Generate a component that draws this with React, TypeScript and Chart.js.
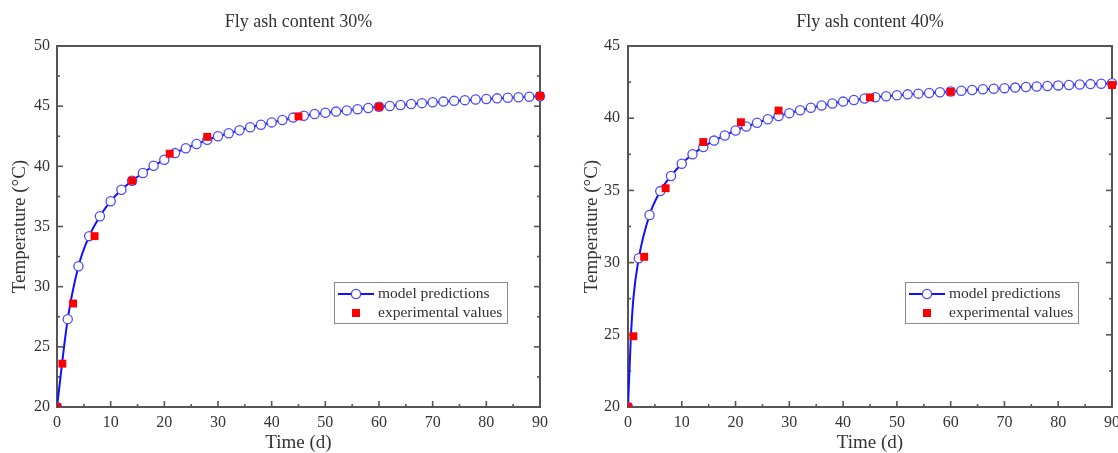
import React, { useEffect, useRef } from "react";
import { Chart, registerables } from "chart.js";

Chart.register(...registerables);

const FONT = "'Liberation Serif', 'Times New Roman', serif";
const TEXT = "#333333";
const AXIS = "#555555";
const LINE_BLUE = "#1010ff";
const MARK_BLUE = "#4a4aff";
const EXP_RED = "#ff0000";

const chartTitles = ["Fly ash content 30%", "Fly ash content 40%"];
const xAxisTitle = "Time (d)";
const yAxisTitle = "Temperature (°C)";
const legendLabels = ["model predictions", "experimental values"];

const xTickValues = [0, 10, 20, 30, 40, 50, 60, 70, 80, 90];
const yTickValues30 = [20, 25, 30, 35, 40, 45, 50];
const yTickValues40 = [20, 25, 30, 35, 40, 45];

const expDays = [0, 1, 3, 7, 14, 21, 28, 45, 60, 90];
const expTemp30 = [20, 23.6, 28.6, 34.2, 38.8, 41.05, 42.45, 44.15, 44.95, 45.85];
const expTemp40 = [20, 24.9, 30.4, 35.15, 38.35, 39.72, 40.53, 41.44, 41.83, 42.3];

const modelDays30 = [
  0, 2, 4, 6, 8, 10, 12, 14, 16, 18, 20, 22, 24, 26, 28, 30, 32, 34, 36, 38, 40, 42, 44,
  46, 48, 50, 52, 54, 56, 58, 60, 62, 64, 66, 68, 70, 72, 74, 76, 78, 80, 82, 84, 86, 88, 90,
];
const modelTemp30 = [
  20, 27.3, 31.7, 34.2, 35.85, 37.1, 38.05, 38.8, 39.45, 40.05, 40.55, 41.1, 41.5, 41.85,
  42.2, 42.5, 42.75, 43.0, 43.25, 43.45, 43.65, 43.85, 44.05, 44.2, 44.35, 44.45, 44.55,
  44.65, 44.75, 44.85, 44.95, 45.02, 45.1, 45.18, 45.25, 45.32, 45.38, 45.44, 45.5, 45.55,
  45.6, 45.65, 45.7, 45.74, 45.78, 45.82,
];

const modelDays40 = [
  0, 0.5, 1, 2, 4, 6, 8, 10, 12, 14, 16, 18, 20, 22, 24, 26, 28, 30, 32, 34, 36, 38, 40, 42,
  44, 46, 48, 50, 52, 54, 56, 58, 60, 62, 64, 66, 68, 70, 72, 74, 76, 78, 80, 82, 84, 86, 88, 90,
];
const modelTemp40 = [
  20, 24.6, 27.5, 30.3, 33.3, 34.95, 36.0, 36.85, 37.5, 38.0, 38.45, 38.8, 39.15, 39.43,
  39.68, 39.93, 40.15, 40.35, 40.55, 40.72, 40.88, 41.02, 41.15, 41.26, 41.36, 41.45, 41.52,
  41.59, 41.65, 41.7, 41.75, 41.8, 41.85, 41.9, 41.95, 42.0, 42.04, 42.08, 42.12, 42.16,
  42.2, 42.23, 42.27, 42.3, 42.33, 42.36, 42.39, 42.42,
];

const decorPlugin = {
  id: "decor",
  beforeDatasetsDraw(chart: any, _args: any, opts: any) {
    const { ctx, chartArea: a, scales } = chart;
    ctx.save();
    ctx.fillStyle = TEXT;
    ctx.font = `18px ${FONT}`;
    ctx.textAlign = "center";
    ctx.textBaseline = "middle";
    ctx.fillText(opts.title, (a.left + a.right) / 2, 22);

    ctx.strokeStyle = AXIS;
    ctx.lineWidth = 2;
    ctx.strokeRect(a.left, a.top, a.right - a.left, a.bottom - a.top);

    const seg = (x1: number, y1: number, x2: number, y2: number) => {
      ctx.beginPath();
      ctx.moveTo(x1, y1);
      ctx.lineTo(x2, y2);
      ctx.stroke();
    };
    ctx.lineWidth = 1.6;
    const xs = scales.x;
    const ys = scales.y;
    const xt = xs.ticks.map((t: any) => t.value);
    const yt = ys.ticks.map((t: any) => t.value);
    xt.forEach((v: number, i: number) => {
      const p = xs.getPixelForValue(v);
      seg(p, a.bottom, p, a.bottom - 6);
      if (i < xt.length - 1) {
        const q = xs.getPixelForValue((v + xt[i + 1]) / 2);
        seg(q, a.bottom, q, a.bottom - 3);
      }
    });
    yt.forEach((v: number, i: number) => {
      const p = ys.getPixelForValue(v);
      seg(a.left, p, a.left + 6, p);
      seg(a.right, p, a.right - 6, p);
      if (i < yt.length - 1) {
        const q = ys.getPixelForValue((v + yt[i + 1]) / 2);
        seg(a.left, q, a.left + 3, q);
        seg(a.right, q, a.right - 3, q);
      }
    });
    ctx.restore();
  },
  afterDatasetsDraw(chart: any) {
    const { ctx, chartArea: a } = chart;
    const bx = a.left + 277;
    const by = a.top + 236;
    const bw = 173;
    const bh = 41;
    ctx.save();
    ctx.fillStyle = "#ffffff";
    ctx.fillRect(bx, by, bw, bh);
    ctx.strokeStyle = "#8a8a8a";
    ctx.lineWidth = 1;
    ctx.strokeRect(bx + 0.5, by + 0.5, bw, bh);

    const r1 = by + 12;
    const r2 = by + 31;
    ctx.strokeStyle = LINE_BLUE;
    ctx.lineWidth = 2;
    ctx.beginPath();
    ctx.moveTo(bx + 4, r1);
    ctx.lineTo(bx + 40, r1);
    ctx.stroke();
    ctx.beginPath();
    ctx.arc(bx + 22, r1, 4.6, 0, Math.PI * 2);
    ctx.fillStyle = "#ffffff";
    ctx.fill();
    ctx.strokeStyle = MARK_BLUE;
    ctx.lineWidth = 1.3;
    ctx.stroke();

    ctx.fillStyle = EXP_RED;
    ctx.fillRect(bx + 18, r2 - 4, 8, 8);

    ctx.fillStyle = TEXT;
    ctx.font = `15.5px ${FONT}`;
    ctx.textAlign = "left";
    ctx.textBaseline = "middle";
    ctx.fillText(legendLabels[0], bx + 44, r1);
    ctx.fillText(legendLabels[1], bx + 44, r2);
    ctx.restore();
  },
};

type PanelProps = {
  title: string;
  modelDays: number[];
  modelTemp: number[];
  expTemp: number[];
  yTicks: number[];
  yWidth: number;
  padRight: number;
  yTitlePad: number;
  yTickPad: number;
};

function Panel(p: PanelProps) {
  const ref = useRef<HTMLCanvasElement | null>(null);
  useEffect(() => {
    if (!ref.current) return;
    const modelPts = p.modelDays.map((d, i) => ({ x: d, y: p.modelTemp[i] }));
    const expPts = expDays.map((d, i) => ({ x: d, y: p.expTemp[i] }));
    const yMin = p.yTicks[0];
    const yMax = p.yTicks[p.yTicks.length - 1];
    const chart = new Chart(ref.current, {
      type: "line",
      data: {
        datasets: [
          {
            label: legendLabels[1],
            data: expPts,
            showLine: false,
            pointStyle: "rect",
            pointRadius: 5.6,
            pointBorderWidth: 0,
            pointBackgroundColor: EXP_RED,
            pointBorderColor: EXP_RED,
            clip: { left: 0, bottom: 0, right: 8, top: 8 } as any,
          },
          {
            label: legendLabels[0],
            data: modelPts,
            borderColor: LINE_BLUE,
            borderWidth: 2,
            cubicInterpolationMode: "monotone",
            pointStyle: "circle",
            pointRadius: (c: any) => (c.raw && c.raw.x % 2 === 0 ? 4.6 : 0),
            pointBorderWidth: 1.3,
            pointBorderColor: MARK_BLUE,
            pointBackgroundColor: "#ffffff",
            clip: { left: 0, bottom: 0, right: 8, top: 8 } as any,
          },
        ],
      },
      options: {
        animation: false,
        responsive: false,
        devicePixelRatio: 1,
        layout: { padding: { left: 0, right: p.padRight, top: 46, bottom: 0 } },
        plugins: {
          legend: { display: false },
          tooltip: { enabled: false },
          title: { display: false },
          decor: { title: p.title },
        } as any,
        scales: {
          x: {
            type: "linear",
            min: 0,
            max: 90,
            afterBuildTicks: (s: any) => {
              s.ticks = xTickValues.map((v) => ({ value: v }));
            },
            afterFit: (s: any) => {
              s.height = 46;
              s.paddingLeft = 0;
              s.paddingRight = 0;
            },
            grid: { display: false, drawTicks: false },
            border: { display: false },
            ticks: {
              autoSkip: false,
              maxRotation: 0,
              padding: 6,
              color: TEXT,
              font: { family: FONT, size: 16 },
            },
            title: {
              display: true,
              text: xAxisTitle,
              color: TEXT,
              font: { family: FONT, size: 19, lineHeight: 1 },
              padding: { top: 0, bottom: 0 },
            },
          },
          y: {
            type: "linear",
            min: yMin,
            max: yMax,
            afterBuildTicks: (s: any) => {
              s.ticks = p.yTicks.map((v) => ({ value: v }));
            },
            afterFit: (s: any) => {
              s.width = p.yWidth;
              s.paddingTop = 0;
              s.paddingBottom = 0;
            },
            grid: { display: false, drawTicks: false },
            border: { display: false },
            ticks: {
              autoSkip: false,
              padding: p.yTickPad,
              color: TEXT,
              font: { family: FONT, size: 16 },
            },
            title: {
              display: true,
              text: yAxisTitle,
              color: TEXT,
              font: { family: FONT, size: 19, lineHeight: 1 },
              padding: { top: p.yTitlePad, bottom: 0 },
            },
          },
        },
      },
      plugins: [decorPlugin as any],
    });
    return () => chart.destroy();
  }, []);
  return <canvas ref={ref} width={559} height={453} style={{ display: "block" }} />;
}

export default function App() {
  return (
    <div
      style={{
        position: "absolute",
        left: 0,
        top: 0,
        width: 1118,
        height: 453,
        background: "#ffffff",
        overflow: "hidden",
      }}
    >
      <div style={{ position: "absolute", left: 0, top: 0 }}>
        <Panel
          title={chartTitles[0]}
          modelDays={modelDays30}
          modelTemp={modelTemp30}
          expTemp={expTemp30}
          yTicks={yTickValues30}
          yWidth={57}
          padRight={19}
          yTitlePad={10.5}
          yTickPad={7}
        />
      </div>
      <div style={{ position: "absolute", left: 559, top: 0 }}>
        <Panel
          title={chartTitles[1]}
          modelDays={modelDays40}
          modelTemp={modelTemp40}
          expTemp={expTemp40}
          yTicks={yTickValues40}
          yWidth={69}
          padRight={6}
          yTitlePad={23.5}
          yTickPad={8}
        />
      </div>
    </div>
  );
}
